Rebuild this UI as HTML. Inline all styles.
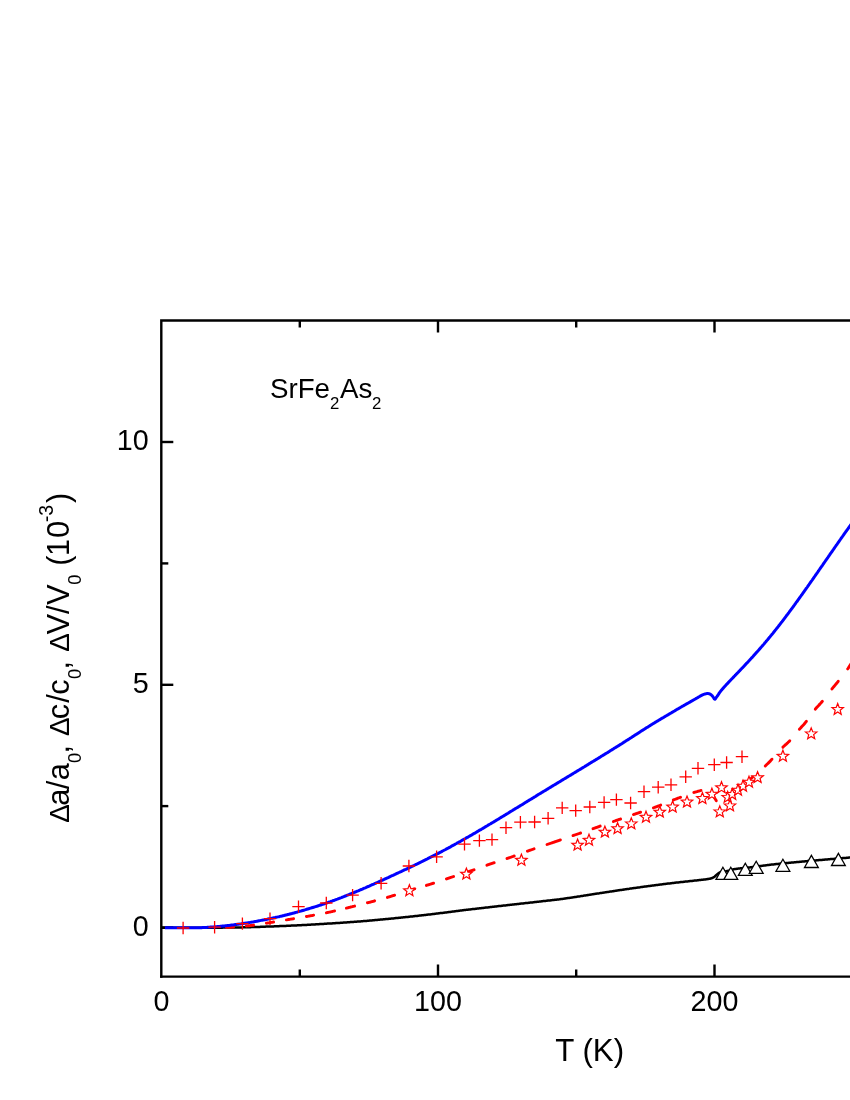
<!DOCTYPE html>
<html><head><meta charset="utf-8"><title>SrFe2As2 thermal expansion</title>
<style>html,body{margin:0;padding:0;background:#fff}svg{display:block;will-change:transform}text{font-family:"Liberation Sans",sans-serif;fill:#000}</style></head><body>
<svg width="850" height="1100" viewBox="0 0 850 1100" role="img" aria-label="Thermal expansion of SrFe2As2 versus temperature">
<rect width="850" height="1100" fill="#fff"/>
<g stroke="#000" stroke-width="2.4" fill="none" stroke-linecap="butt">
<path d="M161.3,977.8V320.5H855"/>
<path d="M160.1,976.6H855"/>
<path d="M438.0,976.6v-12.0M438.0,320.5v12.0"/>
<path d="M714.5,976.6v-12.0M714.5,320.5v12.0"/>
<path d="M299.8,976.6v-7.0M299.8,320.5v7.0"/>
<path d="M576.2,976.6v-7.0M576.2,320.5v7.0"/>
<path d="M161.3,927.5h12.0"/>
<path d="M161.3,684.8h12.0"/>
<path d="M161.3,442.0h12.0"/>
<path d="M161.3,806.1h7.0"/>
<path d="M161.3,563.4h7.0"/>
</g>
<path d="M161.5,927.8 L162.3,927.8 L163.0,927.8 L163.8,927.8 L164.6,927.8 L165.3,927.8 L166.1,927.8 L166.9,927.8 L167.6,927.8 L168.4,927.8 L169.2,927.8 L169.9,927.8 L170.7,927.8 L171.5,927.8 L172.3,927.8 L173.0,927.8 L173.8,927.8 L174.6,927.8 L175.3,927.8 L176.1,927.8 L176.9,927.8 L177.6,927.8 L178.4,927.8 L179.2,927.8 L179.9,927.8 L180.7,927.8 L181.5,927.8 L182.2,927.8 L183.0,927.8 L183.8,927.8 L184.5,927.8 L185.3,927.8 L186.1,927.8 L186.8,927.8 L187.6,927.8 L188.4,927.8 L189.2,927.8 L189.9,927.8 L190.7,927.8 L191.5,927.8 L192.2,927.8 L193.0,927.8 L193.8,927.8 L194.5,927.8 L195.3,927.8 L196.1,927.8 L196.8,927.8 L197.6,927.8 L198.4,927.8 L199.1,927.8 L199.9,927.8 L200.0,927.8 L200.7,927.8 L201.4,927.8 L202.2,927.8 L203.0,927.8 L203.7,927.8 L204.5,927.8 L205.3,927.8 L206.0,927.8 L206.8,927.8 L207.6,927.8 L208.4,927.8 L209.1,927.8 L209.9,927.8 L210.7,927.8 L211.4,927.8 L212.2,927.8 L213.0,927.7 L213.7,927.7 L214.5,927.7 L215.3,927.7 L216.0,927.7 L216.8,927.7 L217.6,927.7 L218.3,927.7 L219.1,927.7 L219.9,927.7 L220.6,927.7 L221.4,927.7 L222.2,927.7 L222.9,927.6 L223.7,927.6 L224.5,927.6 L225.3,927.6 L226.0,927.6 L226.8,927.6 L227.6,927.6 L228.3,927.6 L229.1,927.6 L229.9,927.6 L230.6,927.5 L231.4,927.5 L232.2,927.5 L232.9,927.5 L233.7,927.5 L234.5,927.5 L235.2,927.5 L236.0,927.5 L236.8,927.4 L237.5,927.4 L238.3,927.4 L239.1,927.4 L239.8,927.4 L240.0,927.4 L240.6,927.4 L241.4,927.4 L242.1,927.4 L242.9,927.3 L243.7,927.3 L244.5,927.3 L245.2,927.3 L246.0,927.3 L246.8,927.3 L247.5,927.2 L248.3,927.2 L249.1,927.2 L249.8,927.2 L250.6,927.2 L251.4,927.1 L252.1,927.1 L252.9,927.1 L253.7,927.1 L254.4,927.0 L255.2,927.0 L256.0,927.0 L256.7,927.0 L257.5,926.9 L258.3,926.9 L259.0,926.9 L259.8,926.9 L260.6,926.8 L261.3,926.8 L262.1,926.8 L262.9,926.8 L263.7,926.7 L264.4,926.7 L265.2,926.7 L266.0,926.6 L266.7,926.6 L267.5,926.6 L268.3,926.6 L269.0,926.5 L269.8,926.5 L270.0,926.5 L270.6,926.5 L271.3,926.5 L272.1,926.4 L272.9,926.4 L273.6,926.4 L274.4,926.3 L275.2,926.3 L275.9,926.3 L276.7,926.3 L277.5,926.2 L278.2,926.2 L279.0,926.2 L279.8,926.1 L280.6,926.1 L281.3,926.1 L282.1,926.0 L282.9,926.0 L283.6,926.0 L284.4,925.9 L285.2,925.9 L285.9,925.9 L286.7,925.8 L287.5,925.8 L288.2,925.8 L289.0,925.7 L289.8,925.7 L290.5,925.7 L291.3,925.6 L292.1,925.6 L292.8,925.6 L293.6,925.5 L294.4,925.5 L295.1,925.5 L295.9,925.4 L296.7,925.4 L297.4,925.3 L298.2,925.3 L298.4,925.3 L299.0,925.3 L299.8,925.2 L300.5,925.2 L301.3,925.2 L302.1,925.1 L302.8,925.1 L303.6,925.0 L304.4,925.0 L305.1,925.0 L305.9,924.9 L306.7,924.9 L307.4,924.8 L308.2,924.8 L309.0,924.7 L309.7,924.7 L310.5,924.7 L311.3,924.6 L312.0,924.6 L312.8,924.5 L313.6,924.5 L314.3,924.4 L315.1,924.4 L315.9,924.3 L316.7,924.3 L317.4,924.3 L318.2,924.2 L319.0,924.2 L319.7,924.1 L320.0,924.1 L320.5,924.1 L321.3,924.0 L322.0,924.0 L322.8,923.9 L323.6,923.9 L324.3,923.8 L325.1,923.8 L325.9,923.7 L326.6,923.7 L327.4,923.6 L328.2,923.6 L328.9,923.6 L329.7,923.5 L330.5,923.5 L331.2,923.4 L332.0,923.4 L332.8,923.3 L333.5,923.3 L334.3,923.2 L335.1,923.2 L335.9,923.1 L336.6,923.1 L337.4,923.0 L338.2,923.0 L338.9,922.9 L339.7,922.9 L340.5,922.8 L341.2,922.8 L342.0,922.7 L342.8,922.7 L343.5,922.6 L344.3,922.5 L345.1,922.5 L345.8,922.4 L346.6,922.4 L347.4,922.3 L348.1,922.3 L348.9,922.2 L349.7,922.2 L350.4,922.1 L351.2,922.1 L352.0,922.0 L352.8,921.9 L353.5,921.9 L354.3,921.8 L355.1,921.8 L355.8,921.7 L356.6,921.7 L357.4,921.6 L358.1,921.5 L358.9,921.5 L359.7,921.4 L360.0,921.4 L360.4,921.4 L361.2,921.3 L362.0,921.2 L362.7,921.2 L363.5,921.1 L364.3,921.1 L365.0,921.0 L365.8,920.9 L366.6,920.9 L367.3,920.8 L368.1,920.7 L368.9,920.7 L369.6,920.6 L370.4,920.5 L371.2,920.5 L372.0,920.4 L372.7,920.3 L373.5,920.3 L374.3,920.2 L375.0,920.1 L375.8,920.1 L376.6,920.0 L377.3,919.9 L378.1,919.8 L378.9,919.8 L379.6,919.7 L380.4,919.6 L381.2,919.6 L381.9,919.5 L382.7,919.4 L383.5,919.3 L384.2,919.3 L385.0,919.2 L385.8,919.1 L386.5,919.0 L387.3,919.0 L388.1,918.9 L388.9,918.8 L389.6,918.7 L390.4,918.7 L391.2,918.6 L391.9,918.5 L392.7,918.4 L393.5,918.4 L394.2,918.3 L395.0,918.2 L395.8,918.1 L396.5,918.0 L397.3,918.0 L398.1,917.9 L398.8,917.8 L399.6,917.7 L400.0,917.7 L400.4,917.7 L401.1,917.6 L401.9,917.5 L402.7,917.4 L403.4,917.3 L404.2,917.3 L405.0,917.2 L405.7,917.1 L406.5,917.0 L407.3,916.9 L408.1,916.9 L408.8,916.8 L409.6,916.7 L410.4,916.6 L411.1,916.5 L411.9,916.5 L412.7,916.4 L413.4,916.3 L414.2,916.2 L415.0,916.1 L415.7,916.0 L416.5,915.9 L417.3,915.9 L418.0,915.8 L418.8,915.7 L419.6,915.6 L420.3,915.5 L421.1,915.4 L421.9,915.3 L422.6,915.2 L423.4,915.2 L424.2,915.1 L424.9,915.0 L425.7,914.9 L426.5,914.8 L427.3,914.7 L428.0,914.6 L428.8,914.5 L429.6,914.5 L430.0,914.4 L430.3,914.4 L431.1,914.3 L431.9,914.2 L432.6,914.1 L433.4,914.0 L434.2,913.9 L434.9,913.8 L435.7,913.7 L436.5,913.6 L437.2,913.5 L438.0,913.4 L438.8,913.3 L439.5,913.2 L440.3,913.1 L441.1,913.0 L441.8,912.9 L442.6,912.9 L443.4,912.8 L444.2,912.7 L444.9,912.6 L445.7,912.5 L446.5,912.4 L447.2,912.3 L448.0,912.2 L448.8,912.1 L449.5,912.0 L450.3,911.9 L451.1,911.8 L451.8,911.7 L452.6,911.6 L453.4,911.5 L454.1,911.4 L454.9,911.3 L455.7,911.2 L456.4,911.1 L457.2,911.0 L458.0,910.9 L458.7,910.8 L459.5,910.7 L460.3,910.6 L461.0,910.5 L461.8,910.4 L462.6,910.3 L463.4,910.2 L464.1,910.1 L464.9,910.0 L465.7,909.9 L466.0,909.9 L466.4,909.8 L467.2,909.8 L468.0,909.7 L468.7,909.6 L469.5,909.5 L470.3,909.4 L471.0,909.3 L471.8,909.2 L472.6,909.1 L473.3,909.0 L474.1,908.9 L474.9,908.9 L475.6,908.8 L476.4,908.7 L477.2,908.6 L477.9,908.5 L478.7,908.4 L479.5,908.3 L480.3,908.2 L481.0,908.2 L481.8,908.1 L482.6,908.0 L483.3,907.9 L484.1,907.8 L484.9,907.7 L485.6,907.6 L486.4,907.5 L487.2,907.5 L487.9,907.4 L488.7,907.3 L489.5,907.2 L490.2,907.1 L491.0,907.0 L491.8,906.9 L492.5,906.8 L493.3,906.8 L494.1,906.7 L494.8,906.6 L495.6,906.5 L496.4,906.4 L497.1,906.3 L497.9,906.2 L498.7,906.1 L499.5,906.1 L500.0,906.0 L500.2,906.0 L501.0,905.9 L501.8,905.8 L502.5,905.7 L503.3,905.6 L504.1,905.5 L504.8,905.5 L505.6,905.4 L506.4,905.3 L507.1,905.2 L507.9,905.1 L508.7,905.0 L509.4,904.9 L510.2,904.8 L511.0,904.8 L511.7,904.7 L512.5,904.6 L513.3,904.5 L514.0,904.4 L514.8,904.3 L515.6,904.2 L516.4,904.2 L517.1,904.1 L517.9,904.0 L518.7,903.9 L519.4,903.8 L520.2,903.7 L521.0,903.6 L521.7,903.6 L522.5,903.5 L523.3,903.4 L524.0,903.3 L524.8,903.2 L525.6,903.1 L526.3,903.0 L527.1,903.0 L527.9,902.9 L528.6,902.8 L529.4,902.7 L530.2,902.6 L530.9,902.5 L531.7,902.4 L532.5,902.4 L533.2,902.3 L534.0,902.2 L534.8,902.1 L535.6,902.0 L536.3,901.9 L537.1,901.8 L537.9,901.7 L538.6,901.7 L539.4,901.6 L540.0,901.5 L540.2,901.5 L540.9,901.4 L541.7,901.3 L542.5,901.2 L543.2,901.1 L544.0,901.1 L544.8,901.0 L545.5,900.9 L546.3,900.8 L547.1,900.7 L547.8,900.6 L548.6,900.5 L549.4,900.5 L550.1,900.4 L550.9,900.3 L551.7,900.2 L552.5,900.1 L553.2,900.0 L554.0,899.9 L554.8,899.8 L555.5,899.8 L556.3,899.7 L557.1,899.6 L557.8,899.5 L558.6,899.4 L559.4,899.3 L560.0,899.2 L560.1,899.2 L560.9,899.1 L561.7,899.0 L562.4,898.9 L563.2,898.8 L564.0,898.7 L564.7,898.6 L565.5,898.5 L566.3,898.3 L567.0,898.2 L567.8,898.1 L568.6,898.0 L569.3,897.9 L570.1,897.8 L570.9,897.7 L571.7,897.6 L572.4,897.4 L573.2,897.3 L574.0,897.2 L574.7,897.1 L575.5,897.0 L576.3,896.9 L577.0,896.7 L577.8,896.6 L578.6,896.5 L579.3,896.4 L580.1,896.3 L580.9,896.1 L581.6,896.0 L582.4,895.9 L583.2,895.8 L583.9,895.6 L584.7,895.5 L585.5,895.4 L586.2,895.3 L587.0,895.2 L587.8,895.0 L588.6,894.9 L589.3,894.8 L590.1,894.7 L590.9,894.6 L591.6,894.4 L592.4,894.3 L593.2,894.2 L593.9,894.1 L594.7,894.0 L595.5,893.8 L596.2,893.7 L597.0,893.6 L597.7,893.5 L597.8,893.5 L598.5,893.4 L599.3,893.3 L600.1,893.1 L600.8,893.0 L601.6,892.9 L602.4,892.8 L603.1,892.7 L603.9,892.6 L604.7,892.4 L605.4,892.3 L606.2,892.2 L607.0,892.1 L607.8,892.0 L608.5,891.9 L609.3,891.7 L610.1,891.6 L610.8,891.5 L611.6,891.4 L612.4,891.3 L613.1,891.2 L613.9,891.0 L614.7,890.9 L615.4,890.8 L616.2,890.7 L617.0,890.6 L617.7,890.5 L618.5,890.3 L619.3,890.2 L620.0,890.1 L620.8,890.0 L621.6,889.9 L622.3,889.8 L623.1,889.7 L623.9,889.5 L624.6,889.4 L625.4,889.3 L626.2,889.2 L627.0,889.1 L627.7,889.0 L628.5,888.9 L629.3,888.8 L630.0,888.6 L630.8,888.5 L631.6,888.4 L632.3,888.3 L633.1,888.2 L633.9,888.1 L634.6,888.0 L635.3,887.9 L635.4,887.9 L636.2,887.8 L636.9,887.7 L637.7,887.6 L638.5,887.5 L639.2,887.4 L640.0,887.3 L640.8,887.1 L641.5,887.0 L642.3,886.9 L643.1,886.8 L643.9,886.7 L644.6,886.6 L645.4,886.5 L646.2,886.4 L646.9,886.3 L647.7,886.2 L648.5,886.1 L649.2,886.0 L650.0,885.9 L650.8,885.8 L651.5,885.7 L652.3,885.6 L653.1,885.5 L653.8,885.4 L654.6,885.3 L655.4,885.2 L656.1,885.1 L656.9,885.0 L657.7,884.9 L658.4,884.8 L659.2,884.7 L660.0,884.6 L660.7,884.5 L661.5,884.4 L662.3,884.3 L663.1,884.2 L663.8,884.1 L664.6,884.0 L665.4,883.9 L666.1,883.8 L666.9,883.7 L667.7,883.6 L668.4,883.6 L669.2,883.5 L670.0,883.4 L670.7,883.3 L671.5,883.2 L672.3,883.1 L673.0,883.0 L673.0,883.0 L673.8,882.9 L674.6,882.8 L675.3,882.7 L676.1,882.6 L676.9,882.6 L677.6,882.5 L678.4,882.4 L679.2,882.3 L680.0,882.2 L680.7,882.1 L681.5,882.0 L682.3,882.0 L683.0,881.9 L683.8,881.8 L684.6,881.7 L685.3,881.6 L686.1,881.5 L686.9,881.4 L687.6,881.4 L688.4,881.3 L689.2,881.2 L689.9,881.1 L690.0,881.1 L690.7,881.0 L691.5,880.9 L692.2,880.9 L693.0,880.8 L693.8,880.7 L694.5,880.6 L695.3,880.5 L696.1,880.4 L696.8,880.4 L697.6,880.3 L698.4,880.2 L699.2,880.1 L699.9,880.0 L700.7,879.9 L701.5,879.8 L702.2,879.8 L703.0,879.7 L703.8,879.6 L704.5,879.5 L705.0,879.4 L705.3,879.4 L706.1,879.3 L706.8,879.2 L707.6,879.0 L708.4,878.9 L709.1,878.8 L709.9,878.7 L710.6,878.5 L710.7,878.5 L711.4,878.3 L712.2,878.0 L713.0,877.7 L713.5,877.4 L713.7,877.3 L714.5,876.7 L715.3,876.0 L716.1,875.3 L716.3,875.1 L716.8,874.6 L717.6,873.9 L718.4,873.3 L718.5,873.2 L719.1,872.8 L719.9,872.4 L720.7,872.1 L721.0,872.0 L721.4,871.9 L722.2,871.8 L723.0,871.7 L723.7,871.6 L724.5,871.5 L725.3,871.4 L726.0,871.3 L726.5,871.2 L726.8,871.1 L727.6,871.0 L728.3,870.8 L729.1,870.6 L729.9,870.4 L730.6,870.2 L731.4,869.9 L732.2,869.7 L732.9,869.5 L733.7,869.3 L734.5,869.1 L735.3,869.0 L735.3,869.0 L736.0,868.9 L736.8,868.8 L737.6,868.7 L738.3,868.6 L739.1,868.5 L739.9,868.4 L740.6,868.3 L741.4,868.2 L742.2,868.2 L742.9,868.1 L743.7,868.0 L744.5,867.9 L745.2,867.9 L746.0,867.8 L746.8,867.7 L747.5,867.6 L748.3,867.6 L749.1,867.5 L749.8,867.4 L750.6,867.3 L750.6,867.3 L751.4,867.2 L752.2,867.1 L752.9,867.0 L753.7,866.9 L754.5,866.8 L755.2,866.7 L756.0,866.6 L756.8,866.5 L757.5,866.4 L758.3,866.3 L759.1,866.2 L759.8,866.1 L760.6,866.0 L761.4,865.9 L762.1,865.8 L762.9,865.7 L763.7,865.6 L764.4,865.5 L765.2,865.4 L766.0,865.3 L766.7,865.2 L767.5,865.1 L768.3,865.0 L769.0,864.9 L769.8,864.8 L770.6,864.7 L770.6,864.7 L771.4,864.6 L772.1,864.5 L772.9,864.4 L773.7,864.4 L774.4,864.3 L775.2,864.2 L776.0,864.1 L776.7,864.0 L777.5,864.0 L778.3,863.9 L779.0,863.8 L779.8,863.7 L780.6,863.6 L781.3,863.6 L782.1,863.5 L782.9,863.4 L783.6,863.3 L784.4,863.3 L785.2,863.2 L785.9,863.1 L786.7,863.0 L787.5,863.0 L788.2,862.9 L789.0,862.8 L789.8,862.7 L790.6,862.7 L791.3,862.6 L792.1,862.5 L792.9,862.5 L793.6,862.4 L794.4,862.3 L795.2,862.2 L795.9,862.2 L796.7,862.1 L797.5,862.0 L798.2,862.0 L799.0,861.9 L799.8,861.8 L800.0,861.8 L800.5,861.8 L801.3,861.7 L802.1,861.6 L802.8,861.5 L803.6,861.5 L804.4,861.4 L805.1,861.3 L805.9,861.3 L806.7,861.2 L807.5,861.1 L808.2,861.1 L809.0,861.0 L809.8,860.9 L810.5,860.8 L811.3,860.8 L812.1,860.7 L812.8,860.6 L813.6,860.6 L814.4,860.5 L815.1,860.4 L815.9,860.4 L816.7,860.3 L817.4,860.2 L818.2,860.2 L819.0,860.1 L819.7,860.0 L820.5,860.0 L821.3,859.9 L822.0,859.9 L822.8,859.8 L823.6,859.7 L824.3,859.7 L825.0,859.6 L825.1,859.6 L825.9,859.5 L826.7,859.5 L827.4,859.4 L828.2,859.3 L829.0,859.3 L829.7,859.2 L830.5,859.1 L831.3,859.1 L832.0,859.0 L832.8,858.9 L833.6,858.9 L834.3,858.8 L835.1,858.8 L835.9,858.7 L836.6,858.6 L837.4,858.6 L838.2,858.5 L838.9,858.4 L839.7,858.4 L840.5,858.3 L841.2,858.3 L842.0,858.2 L842.8,858.1 L843.6,858.1 L844.3,858.0 L845.1,857.9 L845.9,857.9 L846.6,857.8 L847.4,857.8 L848.2,857.7 L848.9,857.6 L849.7,857.6 L850.5,857.5 L851.2,857.5 L852.0,857.4" fill="none" stroke="#000" stroke-width="2.5" stroke-linejoin="round"/>
<g fill="none" stroke="#f00" stroke-width="2.9" stroke-linecap="round" stroke-linejoin="round">
<path d="M226.4,927.4 L226.7,927.3 L227.2,927.3 L227.7,927.3 L228.2,927.3 L228.7,927.3 L229.2,927.3 L229.7,927.2 L230.2,927.2 L230.7,927.2 L231.2,927.2 L231.7,927.1 L232.2,927.1 L232.7,927.1 L233.2,927.0 L233.6,927.0"/>
<path d="M246.4,926.0 L246.5,926.0 L247.0,925.9 L247.5,925.9 L248.0,925.8 L248.5,925.8 L249.0,925.7 L249.5,925.7 L250.0,925.6 L250.0,925.6 L250.5,925.5 L251.0,925.5 L251.5,925.4 L252.0,925.4 L252.4,925.3 L252.9,925.2 L253.4,925.2 L253.6,925.1"/>
<path d="M266.4,923.2 L266.8,923.1 L267.3,923.0 L267.8,923.0 L268.3,922.9 L268.8,922.8 L269.3,922.7 L269.7,922.6 L270.0,922.6 L270.2,922.6 L270.7,922.5 L271.2,922.4 L271.7,922.3 L272.2,922.2 L272.7,922.2 L273.2,922.1 L273.6,922.0"/>
<path d="M286.4,919.9 L286.6,919.9 L287.0,919.8 L287.5,919.7 L288.0,919.6 L288.5,919.5 L289.0,919.5 L289.5,919.4 L290.0,919.3 L290.0,919.3 L290.5,919.2 L291.0,919.1 L291.5,919.1 L292.0,919.0 L292.5,918.9 L293.0,918.8 L293.5,918.7 L293.6,918.7"/>
<path d="M306.4,916.5 L306.8,916.5 L307.3,916.4 L307.8,916.3 L308.3,916.2 L308.8,916.1 L309.3,916.0 L309.8,915.9 L310.0,915.9 L310.3,915.8 L310.8,915.8 L311.3,915.7 L311.8,915.6 L312.3,915.5 L312.8,915.4 L313.2,915.3 L313.6,915.2"/>
<path d="M326.4,912.8 L326.6,912.7 L327.1,912.6 L327.6,912.5 L328.1,912.4 L328.6,912.3 L329.1,912.2 L329.6,912.1 L330.1,912.0 L330.5,911.9 L330.5,911.9 L331.0,911.8 L331.5,911.7 L332.0,911.6 L332.5,911.5 L333.0,911.3 L333.5,911.2 L334.0,911.1 L334.5,911.0 L334.6,911.0"/>
<path d="M346.4,908.1 L346.9,908.0 L347.3,907.9 L347.8,907.8 L348.3,907.6 L348.8,907.5 L349.3,907.4 L349.8,907.3 L350.3,907.1 L350.5,907.1 L350.8,907.0 L351.3,906.9 L351.8,906.8 L352.3,906.7 L352.8,906.5 L353.3,906.4 L353.8,906.3 L354.3,906.2 L354.6,906.1"/>
<path d="M367.4,902.8 L367.6,902.8 L368.1,902.7 L368.6,902.5 L369.1,902.4 L369.6,902.3 L370.1,902.1 L370.6,902.0 L371.0,901.9 L371.1,901.9 L371.6,901.7 L372.1,901.6 L372.6,901.5 L373.1,901.4 L373.5,901.2 L374.0,901.1 L374.5,901.0 L374.6,900.9"/>
<path d="M387.4,897.4 L387.9,897.2 L388.4,897.1 L388.9,896.9 L389.4,896.8 L389.9,896.6 L390.4,896.5 L390.8,896.3 L391.0,896.3 L391.3,896.2 L391.8,896.0 L392.3,895.9 L392.8,895.7 L393.3,895.6 L393.8,895.4 L394.3,895.3 L394.6,895.2"/>
<path d="M407.4,890.9 L407.7,890.8 L408.1,890.7 L408.6,890.5 L409.1,890.4 L409.4,890.3 L409.6,890.2 L410.1,890.1 L410.6,889.9 L411.1,889.8 L411.6,889.6 L412.1,889.5 L412.6,889.3 L413.1,889.2 L413.6,889.0 L414.1,888.9 L414.6,888.8 L414.6,888.8"/>
<path d="M426.4,885.4 L426.4,885.4 L426.9,885.2 L427.4,885.1 L427.9,884.9 L428.4,884.8 L428.9,884.6 L429.4,884.5 L429.9,884.3 L430.0,884.3 L430.4,884.2 L430.9,884.0 L431.4,883.9 L431.9,883.7 L432.4,883.6 L432.9,883.4 L433.4,883.2 L433.6,883.2"/>
<path d="M446.4,878.9 L446.7,878.8 L447.2,878.6 L447.7,878.5 L448.2,878.3 L448.7,878.1 L449.2,878.0 L449.7,877.8 L450.0,877.7 L450.2,877.6 L450.7,877.5 L451.1,877.3 L451.6,877.2 L452.1,877.0 L452.6,876.8 L453.1,876.7 L453.6,876.5"/>
<path d="M466.9,872.2 L467.0,872.2 L467.5,872.1 L468.0,871.9 L468.4,871.7 L468.9,871.6 L469.4,871.4 L469.9,871.2 L470.0,871.2 L470.4,871.1 L470.9,870.9 L471.4,870.7 L471.9,870.5 L472.4,870.4 L472.9,870.2 L473.4,870.0 L473.9,869.9 L474.1,869.8"/>
<path d="M486.9,865.2 L487.2,865.1 L487.7,864.9 L488.2,864.7 L488.7,864.5 L489.2,864.4 L489.7,864.2 L490.0,864.1 L490.2,864.0 L490.7,863.9 L491.2,863.7 L491.7,863.5 L492.2,863.4 L492.7,863.2 L493.2,863.0 L493.7,862.9 L494.2,862.7 L494.2,862.7"/>
<path d="M507.0,858.5 L507.0,858.5 L507.5,858.4 L508.0,858.2 L508.5,858.0 L509.0,857.9 L509.5,857.7 L510.0,857.5 L510.5,857.3 L510.6,857.3 L511.0,857.2 L511.5,857.0 L511.9,856.8 L512.4,856.7 L512.9,856.5 L513.4,856.3 L513.9,856.1 L514.2,856.0"/>
<path d="M527.4,851.2 L527.8,851.1 L528.3,850.9 L528.8,850.7 L529.2,850.5 L529.7,850.4 L530.2,850.2 L530.5,850.1 L530.7,850.0 L531.2,849.8 L531.7,849.7 L532.2,849.5 L532.7,849.3 L533.2,849.2 L533.7,849.0 L534.1,848.8"/>
<path d="M547.0,844.5 L547.0,844.5 L547.5,844.3 L548.0,844.2 L548.5,844.0 L549.0,843.8 L549.5,843.7 L550.0,843.5 L550.5,843.3 L551.0,843.2 L551.5,843.0 L552.0,842.8 L552.5,842.6 L553.0,842.5 L553.5,842.3 L553.5,842.3 L554.0,842.1 L554.5,842.0 L554.9,841.8 L555.4,841.6 L555.9,841.5 L556.4,841.3 L556.9,841.1 L557.4,841.0 L557.9,840.8 L558.4,840.6 L558.9,840.5 L559.4,840.3 L559.9,840.1 L560.4,839.9 L560.4,839.9"/>
<path d="M573.0,835.6 L573.2,835.5 L573.7,835.4 L574.2,835.2 L574.7,835.0 L575.2,834.8 L575.7,834.7 L576.2,834.5 L576.7,834.3 L576.8,834.3 L577.2,834.2 L577.7,834.0 L578.2,833.8 L578.7,833.7 L579.2,833.5 L579.7,833.3 L580.2,833.1 L580.6,833.0"/>
<path d="M593.0,828.7 L593.0,828.7 L593.5,828.5 L594.0,828.3 L594.5,828.1 L595.0,828.0 L595.5,827.8 L596.0,827.6 L596.5,827.4 L596.6,827.4 L597.0,827.3 L597.5,827.1 L598.0,826.9 L598.4,826.8 L598.9,826.6 L599.4,826.4 L599.9,826.2 L600.2,826.1"/>
<path d="M613.4,821.5 L613.8,821.3 L614.3,821.2 L614.8,821.0 L615.3,820.8 L615.7,820.6 L616.2,820.5 L616.7,820.3 L617.0,820.2 L617.2,820.1 L617.7,820.0 L618.2,819.8 L618.7,819.6 L619.2,819.4 L619.7,819.3 L620.2,819.1 L620.6,819.0"/>
<path d="M633.4,814.6 L633.5,814.6 L634.0,814.4 L634.5,814.2 L635.0,814.1 L635.5,813.9 L636.0,813.7 L636.5,813.6 L637.0,813.4 L637.0,813.4 L637.5,813.2 L638.0,813.1 L638.5,812.9 L639.0,812.7 L639.5,812.6 L640.0,812.4 L640.5,812.2 L640.6,812.2"/>
<path d="M653.4,807.8 L653.8,807.7 L654.3,807.5 L654.8,807.3 L655.3,807.1 L655.8,806.9 L656.3,806.8 L656.8,806.6 L657.0,806.5 L657.3,806.4 L657.8,806.2 L658.3,806.0 L658.7,805.8 L659.2,805.7 L659.7,805.5 L660.2,805.3 L660.7,805.1"/>
<path d="M673.3,800.0 L673.6,799.9 L674.1,799.7 L674.6,799.5 L675.1,799.3 L675.6,799.2 L676.0,799.0 L676.5,798.8 L677.0,798.6 L677.0,798.6 L677.5,798.4 L678.0,798.2 L678.5,798.0 L679.0,797.8 L679.5,797.7 L680.0,797.5 L680.5,797.3 L680.6,797.2"/>
<path d="M693.8,792.6 L693.8,792.5 L694.3,792.4 L694.8,792.2 L695.3,792.1 L695.8,792.0 L696.3,791.8 L696.8,791.7 L697.3,791.5 L697.4,791.5 L697.8,791.4 L698.3,791.2 L698.8,791.1 L699.3,791.0 L699.8,790.8 L700.3,790.7 L700.8,790.5 L701.0,790.5"/>
<path d="M714.1,797.1 L714.1,797.1 L714.6,797.9 L715.1,798.7 L715.2,798.9 L715.6,799.6 L716.1,800.4 L716.3,800.7"/>
<path d="M750.6,778.7 L750.7,778.7 L751.2,778.3 L751.5,778.0 L751.7,777.9 L752.2,777.4 L752.4,777.2"/>
<path d="M765.3,766.0 L765.5,765.8 L766.0,765.3 L766.5,764.8 L767.0,764.3 L767.5,763.8 L768.0,763.4 L768.5,762.9 L769.0,762.4 L769.5,761.9 L770.0,761.4 L770.5,760.9 L770.9,760.4 L771.4,759.8 L771.9,759.3 L772.0,759.3"/>
<path d="M782.9,747.1 L783.3,746.7 L783.8,746.3 L784.3,745.8 L784.8,745.4 L785.3,744.9 L785.8,744.5 L786.3,744.1 L786.8,743.6 L787.3,743.2 L787.8,742.7 L788.2,742.3 L788.7,741.8 L789.2,741.4 L789.7,740.9 L789.8,740.8"/>
<path d="M799.4,729.3 L799.6,729.1 L800.1,728.5 L800.6,728.0 L801.1,727.4 L801.6,726.9 L802.1,726.3 L802.6,725.8 L803.1,725.2 L803.6,724.7 L804.1,724.1 L804.6,723.6 L805.1,723.0 L805.5,722.4 L806.0,721.8 L806.4,721.4"/>
<path d="M815.3,709.2 L815.4,709.0 L815.9,708.4 L816.4,707.9 L816.9,707.3 L817.4,706.8 L817.9,706.2 L818.4,705.7 L818.9,705.1 L819.4,704.6 L819.9,704.1 L820.4,703.5 L820.9,703.0 L821.4,702.4 L821.9,701.9 L822.4,701.3 L822.4,701.3"/>
<path d="M831.9,689.1 L832.2,688.6 L832.7,688.0 L833.2,687.4 L833.7,686.8 L834.2,686.2 L834.7,685.6 L835.2,685.0 L835.7,684.4 L836.2,683.8 L836.7,683.2 L837.2,682.6 L837.7,682.0 L838.2,681.4 L838.3,681.2"/>
<path d="M847.7,668.9 L848.1,668.4 L848.6,667.7 L849.0,666.9 L849.5,666.1 L850.0,665.4 L850.5,664.6 L851.0,663.8 L851.5,663.0 L852.0,662.2 L852.3,661.7"/>
</g>
<path d="M164.9,927.8 L165.9,927.8 L166.9,927.8 L167.9,927.8 L168.9,927.8 L169.9,927.8 L170.9,927.8 L171.8,927.8 L172.8,927.8 L173.8,927.8 L174.8,927.8 L175.8,927.8 L176.8,927.8 L177.8,927.8 L178.8,927.8 L179.8,927.8 L180.8,927.8 L181.8,927.8 L182.8,927.8 L183.7,927.8 L184.7,927.8 L185.7,927.8 L186.7,927.8 L187.7,927.8 L188.7,927.8 L189.7,927.8 L190.7,927.8 L191.7,927.8 L192.7,927.8 L193.7,927.8 L194.7,927.8 L195.6,927.8 L196.6,927.8 L197.6,927.8 L198.6,927.8 L199.6,927.8 L200.6,927.7 L201.6,927.7 L202.6,927.6 L203.6,927.6 L204.6,927.5 L205.6,927.5 L206.6,927.4 L207.5,927.3 L208.5,927.3 L209.5,927.2 L210.5,927.1 L211.5,927.1 L212.5,927.0 L213.5,926.9 L214.5,926.8 L215.5,926.8 L216.5,926.7 L217.5,926.6 L218.5,926.5 L219.5,926.4 L220.4,926.3 L221.4,926.2 L222.4,926.1 L223.4,926.0 L224.4,925.9 L225.4,925.8 L226.4,925.7 L227.4,925.6 L228.4,925.5 L229.4,925.4 L230.4,925.2 L231.4,925.1 L232.3,925.0 L233.3,924.9 L234.3,924.7 L235.3,924.6 L236.3,924.5 L237.3,924.3 L238.3,924.2 L239.3,924.1 L240.3,923.9 L241.3,923.8 L242.3,923.6 L243.3,923.5 L244.2,923.3 L245.2,923.2 L246.2,923.0 L247.2,922.9 L248.2,922.7 L249.2,922.6 L250.2,922.4 L251.2,922.2 L252.2,922.1 L253.2,921.9 L254.2,921.7 L255.2,921.5 L256.2,921.4 L257.1,921.2 L258.1,921.0 L259.1,920.8 L260.1,920.6 L261.1,920.4 L262.1,920.2 L263.1,920.0 L264.1,919.9 L265.1,919.7 L266.1,919.5 L267.1,919.3 L268.1,919.0 L269.0,918.8 L270.0,918.6 L271.0,918.4 L272.0,918.2 L273.0,918.0 L274.0,917.8 L275.0,917.6 L276.0,917.3 L277.0,917.1 L278.0,916.9 L279.0,916.7 L280.0,916.4 L280.9,916.2 L281.9,916.0 L282.9,915.7 L283.9,915.5 L284.9,915.2 L285.9,915.0 L286.9,914.8 L287.9,914.5 L288.9,914.3 L289.9,914.0 L290.9,913.7 L291.9,913.5 L292.8,913.2 L293.8,913.0 L294.8,912.7 L295.8,912.4 L296.8,912.2 L297.8,911.9 L298.8,911.6 L299.8,911.3 L300.8,911.1 L301.8,910.8 L302.8,910.5 L303.8,910.2 L304.8,909.9 L305.7,909.6 L306.7,909.3 L307.7,909.0 L308.7,908.7 L309.7,908.4 L310.7,908.1 L311.7,907.8 L312.7,907.5 L313.7,907.2 L314.7,906.9 L315.7,906.6 L316.7,906.3 L317.6,906.0 L318.6,905.6 L319.6,905.3 L320.6,905.0 L321.6,904.7 L322.6,904.3 L323.6,904.0 L324.6,903.7 L325.6,903.3 L326.6,903.0 L327.6,902.6 L328.6,902.3 L329.5,901.9 L330.5,901.6 L331.5,901.2 L332.5,900.9 L333.5,900.5 L334.5,900.2 L335.5,899.8 L336.5,899.4 L337.5,899.1 L338.5,898.7 L339.5,898.3 L340.5,897.9 L341.5,897.6 L342.4,897.2 L343.4,896.8 L344.4,896.4 L345.4,896.0 L346.4,895.6 L347.4,895.2 L348.4,894.8 L349.4,894.4 L350.4,894.0 L351.4,893.6 L352.4,893.2 L353.4,892.8 L354.3,892.4 L355.3,892.0 L356.3,891.6 L357.3,891.2 L358.3,890.8 L359.3,890.3 L360.3,889.9 L361.3,889.5 L362.3,889.1 L363.3,888.6 L364.3,888.2 L365.3,887.8 L366.2,887.4 L367.2,886.9 L368.2,886.5 L369.2,886.1 L370.2,885.6 L371.2,885.2 L372.2,884.7 L373.2,884.3 L374.2,883.9 L375.2,883.4 L376.2,883.0 L377.2,882.5 L378.1,882.1 L379.1,881.6 L380.1,881.2 L381.1,880.7 L382.1,880.3 L383.1,879.8 L384.1,879.4 L385.1,878.9 L386.1,878.5 L387.1,878.0 L388.1,877.6 L389.1,877.1 L390.1,876.6 L391.0,876.2 L392.0,875.7 L393.0,875.3 L394.0,874.8 L395.0,874.4 L396.0,873.9 L397.0,873.4 L398.0,873.0 L399.0,872.5 L400.0,872.0 L401.0,871.6 L402.0,871.1 L402.9,870.7 L403.9,870.2 L404.9,869.7 L405.9,869.3 L406.9,868.8 L407.9,868.3 L408.9,867.9 L409.9,867.4 L410.9,866.9 L411.9,866.4 L412.9,866.0 L413.9,865.5 L414.8,865.0 L415.8,864.5 L416.8,864.1 L417.8,863.6 L418.8,863.1 L419.8,862.6 L420.8,862.1 L421.8,861.7 L422.8,861.2 L423.8,860.7 L424.8,860.2 L425.8,859.7 L426.8,859.2 L427.7,858.7 L428.7,858.2 L429.7,857.7 L430.7,857.2 L431.7,856.7 L432.7,856.2 L433.7,855.7 L434.7,855.2 L435.7,854.7 L436.7,854.2 L437.7,853.7 L438.7,853.1 L439.6,852.6 L440.6,852.1 L441.6,851.6 L442.6,851.0 L443.6,850.5 L444.6,850.0 L445.6,849.5 L446.6,848.9 L447.6,848.4 L448.6,847.9 L449.6,847.3 L450.6,846.8 L451.5,846.2 L452.5,845.7 L453.5,845.1 L454.5,844.6 L455.5,844.0 L456.5,843.5 L457.5,842.9 L458.5,842.4 L459.5,841.8 L460.5,841.3 L461.5,840.7 L462.5,840.2 L463.4,839.6 L464.4,839.0 L465.4,838.5 L466.4,837.9 L467.4,837.3 L468.4,836.8 L469.4,836.2 L470.4,835.6 L471.4,835.1 L472.4,834.5 L473.4,833.9 L474.4,833.3 L475.4,832.8 L476.3,832.2 L477.3,831.6 L478.3,831.0 L479.3,830.4 L480.3,829.8 L481.3,829.3 L482.3,828.7 L483.3,828.1 L484.3,827.5 L485.3,826.9 L486.3,826.3 L487.3,825.7 L488.2,825.1 L489.2,824.5 L490.2,824.0 L491.2,823.4 L492.2,822.8 L493.2,822.2 L494.2,821.6 L495.2,821.0 L496.2,820.4 L497.2,819.8 L498.2,819.2 L499.2,818.6 L500.1,818.0 L501.1,817.4 L502.1,816.8 L503.1,816.2 L504.1,815.6 L505.1,815.0 L506.1,814.4 L507.1,813.8 L508.1,813.2 L509.1,812.5 L510.1,811.9 L511.1,811.3 L512.1,810.7 L513.0,810.1 L514.0,809.5 L515.0,808.9 L516.0,808.3 L517.0,807.7 L518.0,807.1 L519.0,806.5 L520.0,805.9 L521.0,805.3 L522.0,804.7 L523.0,804.1 L524.0,803.4 L524.9,802.8 L525.9,802.2 L526.9,801.6 L527.9,801.0 L528.9,800.4 L529.9,799.8 L530.9,799.2 L531.9,798.6 L532.9,798.0 L533.9,797.4 L534.9,796.8 L535.9,796.2 L536.8,795.5 L537.8,794.9 L538.8,794.3 L539.8,793.7 L540.8,793.1 L541.8,792.5 L542.8,791.9 L543.8,791.3 L544.8,790.7 L545.8,790.1 L546.8,789.5 L547.8,788.9 L548.7,788.3 L549.7,787.7 L550.7,787.1 L551.7,786.5 L552.7,785.9 L553.7,785.3 L554.7,784.7 L555.7,784.1 L556.7,783.5 L557.7,782.9 L558.7,782.3 L559.7,781.7 L560.7,781.1 L561.6,780.5 L562.6,779.9 L563.6,779.3 L564.6,778.7 L565.6,778.1 L566.6,777.5 L567.6,776.9 L568.6,776.3 L569.6,775.7 L570.6,775.1 L571.6,774.5 L572.6,773.9 L573.5,773.3 L574.5,772.7 L575.5,772.1 L576.5,771.5 L577.5,770.9 L578.5,770.3 L579.5,769.7 L580.5,769.1 L581.5,768.5 L582.5,767.9 L583.5,767.3 L584.5,766.7 L585.4,766.1 L586.4,765.5 L587.4,764.9 L588.4,764.2 L589.4,763.6 L590.4,763.0 L591.4,762.4 L592.4,761.8 L593.4,761.2 L594.4,760.6 L595.4,760.0 L596.4,759.4 L597.4,758.8 L598.3,758.2 L599.3,757.6 L600.3,757.0 L601.3,756.3 L602.3,755.7 L603.3,755.1 L604.3,754.5 L605.3,753.9 L606.3,753.3 L607.3,752.7 L608.3,752.1 L609.3,751.4 L610.2,750.8 L611.2,750.2 L612.2,749.6 L613.2,749.0 L614.2,748.3 L615.2,747.7 L616.2,747.1 L617.2,746.5 L618.2,745.9 L619.2,745.2 L620.2,744.6 L621.2,744.0 L622.1,743.4 L623.1,742.7 L624.1,742.1 L625.1,741.5 L626.1,740.8 L627.1,740.2 L628.1,739.6 L629.1,739.0 L630.1,738.3 L631.1,737.7 L632.1,737.0 L633.1,736.4 L634.0,735.8 L635.0,735.1 L636.0,734.5 L637.0,733.9 L638.0,733.2 L639.0,732.6 L640.0,731.9 L640.3,731.7 L640.6,731.5 L640.9,731.3 L641.2,731.1 L641.5,730.9 L641.8,730.7 L642.1,730.5 L642.4,730.4 L642.8,730.2 L643.1,730.0 L643.4,729.8 L643.7,729.6 L644.0,729.4 L644.3,729.2 L644.6,729.0 L644.9,728.8 L645.2,728.6 L645.5,728.4 L645.8,728.2 L646.1,728.0 L646.4,727.8 L646.7,727.6 L647.0,727.4 L647.3,727.3 L647.7,727.1 L648.0,726.9 L648.3,726.7 L648.6,726.5 L648.9,726.3 L649.2,726.1 L649.5,725.9 L649.8,725.7 L650.0,725.6 L650.1,725.5 L650.4,725.3 L650.7,725.2 L651.0,725.0 L651.3,724.8 L651.6,724.6 L651.9,724.4 L652.2,724.2 L652.6,724.0 L652.9,723.8 L653.2,723.6 L653.5,723.5 L653.8,723.3 L654.1,723.1 L654.4,722.9 L654.7,722.7 L655.0,722.5 L655.3,722.3 L655.6,722.1 L655.9,722.0 L656.2,721.8 L656.5,721.6 L656.8,721.4 L657.1,721.2 L657.5,721.0 L657.8,720.9 L658.1,720.7 L658.4,720.5 L658.7,720.3 L659.0,720.1 L659.3,719.9 L659.6,719.7 L659.9,719.6 L660.0,719.5 L660.2,719.4 L660.5,719.2 L660.8,719.0 L661.1,718.8 L661.4,718.6 L661.7,718.5 L662.0,718.3 L662.3,718.1 L662.7,717.9 L663.0,717.7 L663.3,717.6 L663.6,717.4 L663.9,717.2 L664.2,717.0 L664.5,716.8 L664.8,716.7 L665.1,716.5 L665.4,716.3 L665.7,716.1 L666.0,715.9 L666.3,715.8 L666.6,715.6 L666.9,715.4 L667.2,715.2 L667.6,715.0 L667.9,714.9 L668.2,714.7 L668.5,714.5 L668.8,714.3 L669.1,714.1 L669.4,714.0 L669.7,713.8 L670.0,713.6 L670.0,713.6 L670.3,713.4 L670.6,713.2 L670.9,713.1 L671.2,712.9 L671.5,712.7 L671.8,712.5 L672.1,712.3 L672.5,712.1 L672.8,712.0 L673.1,711.8 L673.4,711.6 L673.7,711.4 L674.0,711.2 L674.3,711.1 L674.6,710.9 L674.9,710.7 L675.2,710.5 L675.5,710.3 L675.8,710.2 L676.1,710.0 L676.4,709.8 L676.7,709.6 L677.0,709.4 L677.4,709.2 L677.7,709.1 L678.0,708.9 L678.3,708.7 L678.6,708.5 L678.9,708.4 L679.2,708.2 L679.5,708.0 L679.8,707.8 L680.0,707.7 L680.1,707.6 L680.4,707.5 L680.7,707.3 L681.0,707.1 L681.3,706.9 L681.6,706.8 L681.9,706.6 L682.2,706.4 L682.6,706.2 L682.9,706.1 L683.2,705.9 L683.5,705.7 L683.8,705.5 L684.1,705.4 L684.4,705.2 L684.7,705.0 L685.0,704.8 L685.3,704.7 L685.6,704.5 L685.9,704.3 L686.2,704.1 L686.5,704.0 L686.8,703.8 L687.1,703.6 L687.5,703.5 L687.8,703.3 L688.1,703.1 L688.4,702.9 L688.7,702.8 L689.0,702.6 L689.3,702.4 L689.6,702.2 L689.9,702.1 L690.0,702.0 L690.2,701.9 L690.5,701.7 L690.8,701.5 L691.1,701.4 L691.4,701.2 L691.7,701.0 L692.0,700.8 L692.4,700.6 L692.7,700.5 L693.0,700.3 L693.3,700.1 L693.6,699.9 L693.9,699.8 L694.2,699.6 L694.5,699.4 L694.8,699.2 L695.1,699.1 L695.4,698.9 L695.7,698.7 L696.0,698.5 L696.3,698.4 L696.6,698.2 L696.9,698.0 L697.3,697.8 L697.6,697.7 L697.9,697.5 L698.0,697.4 L698.2,697.3 L698.5,697.1 L698.8,696.9 L699.1,696.8 L699.4,696.6 L699.7,696.4 L700.0,696.2 L700.3,696.0 L700.6,695.9 L700.9,695.7 L701.2,695.5 L701.5,695.4 L701.8,695.2 L702.1,695.1 L702.1,695.1 L702.5,694.9 L702.8,694.8 L703.1,694.7 L703.4,694.5 L703.7,694.4 L704.0,694.3 L704.3,694.2 L704.6,694.1 L704.9,694.0 L705.0,694.0 L705.2,693.9 L705.5,693.9 L705.8,693.8 L706.1,693.7 L706.4,693.7 L706.7,693.6 L707.0,693.6 L707.1,693.6 L707.4,693.6 L707.7,693.6 L708.0,693.6 L708.3,693.6 L708.6,693.7 L708.9,693.7 L709.0,693.7 L709.2,693.7 L709.5,693.8 L709.8,694.0 L710.1,694.1 L710.4,694.3 L710.6,694.4 L710.7,694.5 L711.0,694.7 L711.3,694.9 L711.6,695.2 L711.9,695.5 L712.0,695.6 L712.3,695.9 L712.6,696.3 L712.9,696.7 L713.2,697.1 L713.5,697.6 L713.5,697.6 L713.8,698.0 L714.1,698.6 L714.4,699.0 L714.7,699.3 L714.8,699.3 L715.0,699.2 L715.3,698.9 L715.6,698.5 L715.9,698.0 L716.2,697.6 L716.2,697.6 L716.5,697.1 L716.8,696.7 L717.2,696.3 L717.5,695.8 L717.6,695.6 L717.8,695.4 L718.1,694.9 L718.4,694.4 L718.7,693.9 L719.0,693.5 L719.1,693.3 L719.3,693.0 L719.6,692.6 L719.9,692.2 L720.2,691.8 L720.5,691.4 L720.8,691.0 L721.1,690.6 L721.4,690.2 L721.7,689.9 L722.0,689.6 L722.0,689.5 L722.4,689.1 L722.7,688.8 L723.0,688.4 L723.3,688.1 L723.6,687.7 L723.9,687.4 L724.2,687.0 L724.5,686.7 L724.8,686.4 L725.1,686.0 L725.4,685.7 L725.7,685.4 L726.0,685.1 L726.0,685.0 L726.3,684.7 L726.6,684.4 L726.9,684.0 L727.3,683.7 L727.6,683.4 L727.9,683.1 L728.2,682.7 L728.5,682.4 L728.8,682.1 L729.1,681.7 L729.4,681.4 L729.7,681.1 L730.0,680.8 L730.0,680.8 L730.3,680.5 L730.6,680.1 L730.9,679.8 L731.2,679.5 L731.5,679.2 L731.8,678.9 L732.2,678.5 L732.5,678.2 L732.8,677.9 L733.1,677.6 L733.4,677.3 L733.7,676.9 L734.0,676.6 L734.0,676.6 L734.3,676.3 L734.6,676.0 L734.9,675.7 L735.2,675.4 L735.5,675.0 L735.8,674.7 L736.1,674.4 L736.4,674.1 L736.7,673.8 L737.1,673.4 L737.4,673.1 L737.7,672.8 L738.0,672.5 L738.0,672.5 L738.3,672.2 L738.6,671.9 L738.9,671.5 L739.2,671.2 L739.5,670.9 L739.8,670.6 L740.1,670.3 L740.4,669.9 L740.7,669.6 L741.0,669.3 L741.3,669.0 L741.6,668.6 L741.9,668.3 L742.0,668.3 L742.3,668.0 L742.6,667.7 L742.9,667.4 L743.2,667.0 L743.5,666.7 L743.8,666.4 L744.1,666.1 L744.4,665.7 L744.7,665.4 L745.0,665.1 L745.3,664.8 L745.6,664.4 L745.9,664.1 L746.0,664.0 L746.2,663.8 L746.5,663.4 L746.8,663.1 L747.2,662.8 L747.5,662.5 L747.8,662.1 L748.1,661.8 L748.4,661.5 L748.7,661.1 L749.0,660.8 L749.3,660.5 L749.6,660.1 L749.9,659.8 L750.0,659.7 L750.2,659.5 L750.5,659.1 L750.8,658.8 L751.1,658.5 L751.4,658.1 L751.7,657.8 L752.1,657.5 L752.4,657.1 L752.7,656.8 L753.0,656.5 L753.3,656.1 L753.6,655.8 L753.9,655.4 L754.0,655.3 L754.2,655.1 L754.5,654.8 L754.8,654.4 L755.1,654.1 L755.4,653.7 L755.7,653.4 L756.0,653.1 L756.3,652.7 L756.6,652.4 L756.9,652.0 L757.3,651.7 L757.6,651.3 L757.9,651.0 L758.0,650.8 L758.2,650.6 L758.5,650.3 L758.8,650.0 L759.1,649.6 L759.4,649.3 L759.7,648.9 L760.0,648.6 L760.3,648.2 L760.6,647.9 L760.9,647.5 L761.2,647.2 L761.5,646.8 L761.8,646.5 L762.0,646.3 L762.2,646.1 L762.5,645.7 L762.8,645.4 L763.1,645.0 L763.4,644.7 L763.7,644.3 L764.0,644.0 L764.3,643.6 L764.6,643.2 L764.9,642.9 L765.2,642.5 L765.5,642.2 L765.8,641.8 L766.0,641.6 L766.1,641.4 L766.4,641.1 L766.7,640.7 L767.1,640.3 L767.4,640.0 L767.7,639.6 L768.0,639.2 L768.3,638.9 L768.6,638.5 L768.9,638.1 L769.2,637.8 L769.5,637.4 L769.8,637.0 L770.0,636.8 L770.1,636.7 L770.4,636.3 L770.7,635.9 L771.0,635.5 L771.3,635.2 L771.6,634.8 L772.0,634.4 L772.3,634.0 L772.6,633.7 L772.9,633.3 L773.2,632.9 L773.5,632.5 L773.8,632.1 L774.0,631.9 L774.1,631.8 L774.4,631.4 L774.7,631.0 L775.0,630.6 L775.3,630.2 L775.6,629.8 L775.9,629.5 L776.2,629.1 L776.5,628.7 L776.8,628.3 L777.2,627.9 L777.5,627.5 L777.8,627.1 L778.0,626.8 L778.1,626.7 L778.4,626.3 L778.7,625.9 L779.0,625.6 L779.3,625.2 L779.6,624.8 L779.9,624.4 L780.2,624.0 L780.5,623.6 L780.8,623.2 L781.1,622.8 L781.4,622.4 L781.7,622.0 L782.0,621.7 L782.1,621.6 L782.4,621.2 L782.7,620.8 L783.0,620.4 L783.3,620.0 L783.6,619.6 L783.9,619.2 L784.2,618.8 L784.5,618.4 L784.8,618.0 L785.1,617.6 L785.4,617.2 L785.7,616.8 L786.0,616.4 L786.0,616.3 L786.3,615.9 L786.6,615.5 L787.0,615.1 L787.3,614.7 L787.6,614.3 L787.9,613.9 L788.2,613.5 L788.5,613.1 L788.8,612.7 L789.1,612.3 L789.4,611.8 L789.7,611.4 L790.0,611.0 L790.0,611.0 L790.3,610.6 L790.6,610.2 L790.9,609.8 L791.2,609.4 L791.5,608.9 L791.9,608.5 L792.2,608.1 L792.5,607.7 L792.8,607.3 L793.1,606.9 L793.4,606.4 L793.7,606.0 L794.0,605.6 L794.0,605.6 L794.3,605.2 L794.6,604.8 L794.9,604.3 L795.2,603.9 L795.5,603.5 L795.8,603.1 L796.1,602.6 L796.4,602.2 L796.7,601.8 L797.1,601.4 L797.4,600.9 L797.7,600.5 L798.0,600.1 L798.0,600.1 L798.3,599.7 L798.6,599.2 L798.9,598.8 L799.2,598.4 L799.5,598.0 L799.8,597.5 L800.1,597.1 L800.4,596.7 L800.7,596.3 L801.0,595.8 L801.3,595.4 L801.6,595.0 L802.0,594.5 L802.0,594.5 L802.3,594.1 L802.6,593.7 L802.9,593.2 L803.2,592.8 L803.5,592.4 L803.8,592.0 L804.1,591.5 L804.4,591.1 L804.7,590.7 L805.0,590.2 L805.3,589.8 L805.6,589.4 L805.9,588.9 L806.0,588.8 L806.2,588.5 L806.5,588.1 L806.9,587.6 L807.2,587.2 L807.5,586.8 L807.8,586.3 L808.1,585.9 L808.4,585.4 L808.7,585.0 L809.0,584.6 L809.3,584.1 L809.6,583.7 L809.9,583.3 L810.0,583.1 L810.2,582.8 L810.5,582.4 L810.8,582.0 L811.1,581.5 L811.4,581.1 L811.8,580.6 L812.1,580.2 L812.4,579.8 L812.7,579.3 L813.0,578.9 L813.3,578.4 L813.6,578.0 L813.9,577.6 L814.0,577.4 L814.2,577.1 L814.5,576.7 L814.8,576.3 L815.1,575.8 L815.4,575.4 L815.7,574.9 L816.0,574.5 L816.3,574.1 L816.6,573.6 L817.0,573.2 L817.3,572.7 L817.6,572.3 L817.9,571.8 L818.0,571.7 L818.2,571.4 L818.5,571.0 L818.8,570.5 L819.1,570.1 L819.4,569.6 L819.7,569.2 L820.0,568.8 L820.3,568.3 L820.6,567.9 L820.9,567.4 L821.2,567.0 L821.5,566.6 L821.9,566.1 L822.0,565.9 L822.2,565.7 L822.5,565.2 L822.8,564.8 L823.1,564.3 L823.4,563.9 L823.7,563.5 L824.0,563.0 L824.3,562.6 L824.6,562.1 L824.9,561.7 L825.2,561.3 L825.5,560.8 L825.8,560.4 L826.0,560.1 L826.1,559.9 L826.4,559.5 L826.8,559.0 L827.1,558.6 L827.4,558.2 L827.7,557.7 L828.0,557.3 L828.3,556.8 L828.6,556.4 L828.9,555.9 L829.2,555.5 L829.5,555.1 L829.8,554.6 L830.0,554.4 L830.1,554.2 L830.4,553.7 L830.7,553.3 L831.0,552.9 L831.3,552.4 L831.7,552.0 L832.0,551.5 L832.3,551.1 L832.6,550.7 L832.9,550.2 L833.2,549.8 L833.5,549.3 L833.8,548.9 L834.0,548.6 L834.1,548.5 L834.4,548.0 L834.7,547.6 L835.0,547.1 L835.3,546.7 L835.6,546.3 L835.9,545.8 L836.2,545.4 L836.5,544.9 L836.9,544.5 L837.2,544.1 L837.5,543.6 L837.8,543.2 L838.0,542.9 L838.1,542.8 L838.4,542.3 L838.7,541.9 L839.0,541.4 L839.3,541.0 L839.6,540.6 L839.9,540.1 L840.2,539.7 L840.5,539.3 L840.8,538.8 L841.1,538.4 L841.4,537.9 L841.8,537.5 L842.0,537.2 L842.1,537.1 L842.4,536.6 L842.7,536.2 L843.0,535.8 L843.3,535.3 L843.6,534.9 L843.9,534.5 L844.2,534.0 L844.5,533.6 L844.8,533.2 L845.1,532.7 L845.4,532.3 L845.7,531.9 L846.0,531.5 L846.0,531.5 L846.3,531.0 L846.7,530.6 L847.0,530.2 L847.3,529.7 L847.6,529.3 L847.9,528.9 L848.2,528.4 L848.5,528.0 L848.8,527.6 L849.1,527.2 L849.4,526.7 L849.7,526.3 L850.0,525.9 L850.0,525.9 L850.3,525.4 L850.6,525.0 L850.9,524.6 L851.2,524.2 L851.6,523.7 L851.9,523.3 L852.2,522.9 L852.5,522.5 L852.8,522.0 L853.1,521.6 L853.4,521.2 L853.7,520.8 L854.0,520.4" fill="none" stroke="#00f" stroke-width="3.0" stroke-linejoin="round" stroke-linecap="butt"/>
<g fill="none" stroke="#f00" stroke-width="1.3">
<path d="M176.9,928.0h12.4M183.1,921.8v12.4M208.4,927.2h12.4M214.6,921.0v12.4M236.2,923.6h12.4M242.4,917.4v12.4M263.8,918.7h12.4M270.0,912.5v12.4M292.3,906.6h12.4M298.5,900.4v12.4M320.1,903.0h12.4M326.3,896.8v12.4M346.4,895.1h12.4M352.6,888.9v12.4M374.9,883.3h12.4M381.1,877.1v12.4M402.7,866.0h12.4M408.9,859.8v12.4M430.4,856.8h12.4M436.6,850.6v12.4M458.3,844.2h12.4M464.5,838.0v12.4M473.2,840.6h12.4M479.4,834.4v12.4M485.8,839.6h12.4M492.0,833.4v12.4M499.8,827.7h12.4M506.0,821.5v12.4M514.2,822.2h12.4M520.4,816.0v12.4M528.4,822.0h12.4M534.6,815.8v12.4M541.9,818.3h12.4M548.1,812.1v12.4M556.0,807.9h12.4M562.2,801.7v12.4M569.5,810.6h12.4M575.7,804.4v12.4M583.6,807.0h12.4M589.8,800.8v12.4M597.9,802.4h12.4M604.1,796.2v12.4M610.2,799.6h12.4M616.4,793.4v12.4M624.4,803.0h12.4M630.6,796.8v12.4M637.8,791.7h12.4M644.0,785.5v12.4M652.0,787.2h12.4M658.2,781.0v12.4M664.8,784.8h12.4M671.0,778.6v12.4M679.5,776.8h12.4M685.7,770.6v12.4M691.8,768.3h12.4M698.0,762.1v12.4M708.1,764.7h12.4M714.3,758.5v12.4M720.4,762.5h12.4M726.6,756.3v12.4M735.8,756.7h12.4M742.0,750.5v12.4"/>
</g>
<g fill="#fff" stroke="#f00" stroke-width="1.2" stroke-linejoin="miter">
<path d="M409.40,884.75 L410.93,888.65 L415.11,888.90 L411.87,891.55 L412.93,895.60 L409.40,893.35 L405.87,895.60 L406.93,891.55 L403.69,888.90 L407.87,888.65Z"/>
<path d="M466.40,868.15 L467.93,872.05 L472.11,872.30 L468.87,874.95 L469.93,879.00 L466.40,876.75 L462.87,879.00 L463.93,874.95 L460.69,872.30 L464.87,872.05Z"/>
<path d="M521.40,854.25 L522.93,858.15 L527.11,858.40 L523.87,861.05 L524.93,865.10 L521.40,862.85 L517.87,865.10 L518.93,861.05 L515.69,858.40 L519.87,858.15Z"/>
<path d="M577.60,839.15 L579.13,843.05 L583.31,843.30 L580.07,845.95 L581.13,850.00 L577.60,847.75 L574.07,850.00 L575.13,845.95 L571.89,843.30 L576.07,843.05Z"/>
<path d="M589.00,834.25 L590.53,838.15 L594.71,838.40 L591.47,841.05 L592.53,845.10 L589.00,842.85 L585.47,845.10 L586.53,841.05 L583.29,838.40 L587.47,838.15Z"/>
<path d="M604.90,826.15 L606.43,830.05 L610.61,830.30 L607.37,832.95 L608.43,837.00 L604.90,834.75 L601.37,837.00 L602.43,832.95 L599.19,830.30 L603.37,830.05Z"/>
<path d="M617.60,822.65 L619.13,826.55 L623.31,826.80 L620.07,829.45 L621.13,833.50 L617.60,831.25 L614.07,833.50 L615.13,829.45 L611.89,826.80 L616.07,826.55Z"/>
<path d="M631.30,817.85 L632.83,821.75 L637.01,822.00 L633.77,824.65 L634.83,828.70 L631.30,826.45 L627.77,828.70 L628.83,824.65 L625.59,822.00 L629.77,821.75Z"/>
<path d="M646.00,811.25 L647.53,815.15 L651.71,815.40 L648.47,818.05 L649.53,822.10 L646.00,819.85 L642.47,822.10 L643.53,818.05 L640.29,815.40 L644.47,815.15Z"/>
<path d="M659.80,806.15 L661.33,810.05 L665.51,810.30 L662.27,812.95 L663.33,817.00 L659.80,814.75 L656.27,817.00 L657.33,812.95 L654.09,810.30 L658.27,810.05Z"/>
<path d="M672.60,801.05 L674.13,804.95 L678.31,805.20 L675.07,807.85 L676.13,811.90 L672.60,809.65 L669.07,811.90 L670.13,807.85 L666.89,805.20 L671.07,804.95Z"/>
<path d="M687.00,796.05 L688.53,799.95 L692.71,800.20 L689.47,802.85 L690.53,806.90 L687.00,804.65 L683.47,806.90 L684.53,802.85 L681.29,800.20 L685.47,799.95Z"/>
<path d="M702.40,792.55 L703.93,796.45 L708.11,796.70 L704.87,799.35 L705.93,803.40 L702.40,801.15 L698.87,803.40 L699.93,799.35 L696.69,796.70 L700.87,796.45Z"/>
<path d="M711.90,788.25 L713.43,792.15 L717.61,792.40 L714.37,795.05 L715.43,799.10 L711.90,796.85 L708.37,799.10 L709.43,795.05 L706.19,792.40 L710.37,792.15Z"/>
<path d="M719.80,805.85 L721.33,809.75 L725.51,810.00 L722.27,812.65 L723.33,816.70 L719.80,814.45 L716.27,816.70 L717.33,812.65 L714.09,810.00 L718.27,809.75Z"/>
<path d="M721.50,781.75 L723.03,785.65 L727.21,785.90 L723.97,788.55 L725.03,792.60 L721.50,790.35 L717.97,792.60 L719.03,788.55 L715.79,785.90 L719.97,785.65Z"/>
<path d="M727.70,791.35 L729.23,795.25 L733.41,795.50 L730.17,798.15 L731.23,802.20 L727.70,799.95 L724.17,802.20 L725.23,798.15 L721.99,795.50 L726.17,795.25Z"/>
<path d="M730.00,799.85 L731.53,803.75 L735.71,804.00 L732.47,806.65 L733.53,810.70 L730.00,808.45 L726.47,810.70 L727.53,806.65 L724.29,804.00 L728.47,803.75Z"/>
<path d="M732.20,788.45 L733.73,792.35 L737.91,792.60 L734.67,795.25 L735.73,799.30 L732.20,797.05 L728.67,799.30 L729.73,795.25 L726.49,792.60 L730.67,792.35Z"/>
<path d="M738.00,784.25 L739.53,788.15 L743.71,788.40 L740.47,791.05 L741.53,795.10 L738.00,792.85 L734.47,795.10 L735.53,791.05 L732.29,788.40 L736.47,788.15Z"/>
<path d="M743.00,780.25 L744.53,784.15 L748.71,784.40 L745.47,787.05 L746.53,791.10 L743.00,788.85 L739.47,791.10 L740.53,787.05 L737.29,784.40 L741.47,784.15Z"/>
<path d="M749.00,776.25 L750.53,780.15 L754.71,780.40 L751.47,783.05 L752.53,787.10 L749.00,784.85 L745.47,787.10 L746.53,783.05 L743.29,780.40 L747.47,780.15Z"/>
<path d="M757.60,771.65 L759.13,775.55 L763.31,775.80 L760.07,778.45 L761.13,782.50 L757.60,780.25 L754.07,782.50 L755.13,778.45 L751.89,775.80 L756.07,775.55Z"/>
<path d="M782.90,750.25 L784.43,754.15 L788.61,754.40 L785.37,757.05 L786.43,761.10 L782.90,758.85 L779.37,761.10 L780.43,757.05 L777.19,754.40 L781.37,754.15Z"/>
<path d="M811.20,727.85 L812.73,731.75 L816.91,732.00 L813.67,734.65 L814.73,738.70 L811.20,736.45 L807.67,738.70 L808.73,734.65 L805.49,732.00 L809.67,731.75Z"/>
<path d="M837.70,703.45 L839.23,707.35 L843.41,707.60 L840.17,710.25 L841.23,714.30 L837.70,712.05 L834.17,714.30 L835.23,710.25 L831.99,707.60 L836.17,707.35Z"/>
</g>
<g fill="#fff" stroke="#000" stroke-width="1.3" stroke-linejoin="miter">
<path d="M722.9,867.3L729.8,879.4L716.0,879.4Z"/>
<path d="M730.8,867.3L737.7,879.4L723.9,879.4Z"/>
<path d="M745.3,863.3L752.2,875.4L738.4,875.4Z"/>
<path d="M756.2,861.2L763.1,873.3L749.3,873.3Z"/>
<path d="M782.9,859.2L789.8,871.3L776.0,871.3Z"/>
<path d="M811.4,855.4L818.3,867.5L804.5,867.5Z"/>
<path d="M838.4,853.4L845.3,865.5L831.5,865.5Z"/>
</g>
<g font-size="28.7" text-anchor="middle">
<text transform="translate(161.5,1010.6)">0</text>
<text transform="translate(438.0,1010.6)">100</text>
<text transform="translate(714.5,1010.6)">200</text>
</g>
<g font-size="28.7" text-anchor="end">
<text transform="translate(148.6,935.8)">0</text>
<text transform="translate(148.6,693.0)">5</text>
<text transform="translate(148.6,450.3)">10</text>
</g>
<text x="555.2" y="1060.6" font-size="31.3">T (K)</text>
<text transform="translate(68.9,822.0) rotate(-90)"><tspan font-size="27.8" x="-0.63" y="0">Δ</tspan><tspan font-size="30.8" x="16.21" y="0">a</tspan><tspan font-size="30.8" x="32.70" y="0">/</tspan><tspan font-size="30.8" x="41.81" y="0">a</tspan><tspan font-size="18.3" x="58.99" y="12.0">0</tspan><tspan font-size="30.8" x="68.43" y="0">,</tspan><tspan font-size="27.8" x="86.07" y="0">Δ</tspan><tspan font-size="30.8" x="102.81" y="0">c</tspan><tspan font-size="30.8" x="119.20" y="0">/</tspan><tspan font-size="30.8" x="127.31" y="0">c</tspan><tspan font-size="18.3" x="142.99" y="12.0">0</tspan><tspan font-size="30.8" x="152.63" y="0">,</tspan><tspan font-size="27.8" x="170.17" y="0">Δ</tspan><tspan font-size="30.8" x="187.58" y="0">V</tspan><tspan font-size="30.8" x="208.10" y="0">/</tspan><tspan font-size="30.8" x="216.98" y="0">V</tspan><tspan font-size="18.3" x="237.29" y="12.0">0</tspan><tspan font-size="30.8" x="256.19" y="0">(</tspan><tspan font-size="30.8" x="266.06" y="0">1</tspan><tspan font-size="30.8" x="283.90" y="0">0</tspan><tspan font-size="19.5" x="300.14" y="-16.3">-</tspan><tspan font-size="19.5" x="306.36" y="-16.3">3</tspan><tspan font-size="30.8" x="319.12" y="0">)</tspan></text>
<text font-size="27.7" y="398.2"><tspan x="270">SrFe</tspan><tspan font-size="16.8" x="330.0" y="408.8">2</tspan><tspan x="340.1" y="398.2">As</tspan><tspan font-size="16.8" x="372.0" y="408.8">2</tspan></text>
</svg></body></html>
